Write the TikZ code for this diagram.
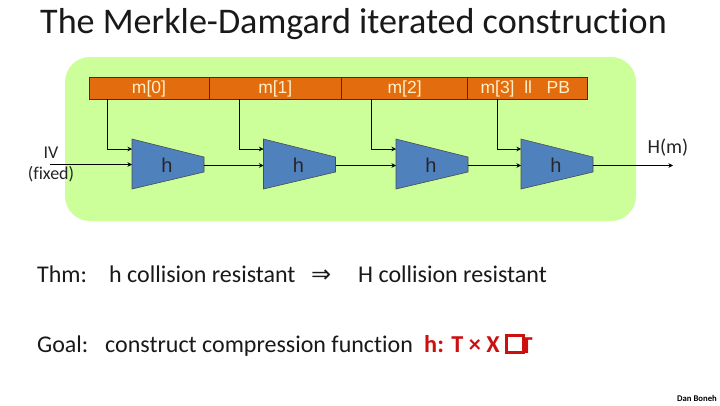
\documentclass[tikz,border=0pt]{standalone}
\usepackage{fontspec}
\setmainfont[Ligatures={NoCommon,NoRequired,NoContextual},RawFeature={-liga;-clig;-dlig}]{Carlito}
\newfontfamily\arialf{Liberation Sans}
\newfontfamily\dejavu{DejaVu Sans}
\usetikzlibrary{arrows.meta}
\definecolor{panelgreen}{RGB}{204,255,153}
\definecolor{barorange}{RGB}{226,108,14}
\definecolor{blockblue}{RGB}{79,129,189}
\definecolor{redtext}{RGB}{204,16,16}
\definecolor{barink}{RGB}{255,240,200}
\tikzset{
  x=1pt,y=-1pt,
  panel/.style={fill=panelgreen,draw=none,rounded corners=25pt},
  cell/.style={draw=black!80,line width=0.7pt,fill=barorange,minimum height=22pt,inner sep=0pt,text height=13.5pt,text depth=3.5pt,text=barink,font=\arialf\fontsize{17.5}{20}\selectfont},
  block/.style={fill=blockblue,draw=black!70,line width=0.6pt},
  blocklabel/.style={font=\arialf\fontsize{20}{23}\selectfont,text=black!85,inner sep=0pt},
  wire/.style={draw=black,line width=1pt,-{Stealth[length=4.5pt,width=4.5pt]}},
  body/.style={anchor=base west,inner sep=0pt,font=\fontsize{24}{28}\selectfont,text=black!90},
  small/.style={inner sep=0pt,font=\fontsize{18}{21}\selectfont,text=black!85}
}
\begin{document}
\begin{tikzpicture}
\useasboundingbox (0,0) rectangle (720,405);
\fill[white] (0,0) rectangle (720,405);
\node[anchor=base west,inner sep=0pt,font=\fontsize{36.1}{42}\selectfont,text=black!90] (title) at (40,33) {The Merkle-Damgard iterated construction};
\draw[panel] (65,57) rectangle (636,221);

\node[cell,minimum width=120pt] (m0) at (149,88) {m[0]};
\node[cell,minimum width=132.6pt] (m1) at (275.3,88) {m[1]};
\node[cell,minimum width=126pt] (m2) at (404.6,88) {m[2]};
\node[cell,minimum width=119.4pt] (m3) at (527.3,88) {\hspace*{-4pt}m[3]\ \ ll\ \ \ PB};

\foreach \n/\xx in {1/132,2/263.5,3/396,4/521}{
  \draw[block] (\xx,139) -- (\xx+72,157) -- (\xx+72,172) -- (\xx,189) -- cycle;
  \coordinate (h\n a) at (\xx,149);
  \coordinate (h\n b) at (\xx,164.5);
  \coordinate (h\n o) at (\xx+72,165.5);
  \node[blocklabel] (h\n) at (\xx+35,165) {h};
}
\coordinate (t0) at (107,99);
\coordinate (t1) at (239,99);
\coordinate (t2) at (371,99);
\coordinate (t3) at (497,99);

\draw[wire] (t0) |- (h1a);
\draw[wire] (t1) |- (h2a);
\draw[wire] (t2) |- (h3a);
\draw[wire] (t3) |- (h4a);

\coordinate (ivstart) at (50,164.5);
\coordinate (hout) at (673,166);
\draw[wire] (ivstart) -- (h1b);
\draw[wire] (h1o) -- (h2b |- h1o);
\draw[wire] (h2o) -- (h3b |- h2o);
\draw[wire] (h3o) -- (h4b |- h3o);
\draw[wire] (h4o) -- (hout |- h4o);

\node[small] (iv) at (51,153) {IV};
\node[small] (fixed) at (51,174) {(fixed)};
\node[inner sep=0pt,font=\fontsize{20}{24}\selectfont,text=black!85] (hm) at (668,148) {H(m)};

\node[body] (thm) at (37,282) {Thm:};
\node[body] (hcr) at (109,282) {h collision resistant};
\node[body,font=\dejavu\fontsize{24}{28}\selectfont] (imp) at (311,282) {⇒};
\node[body] (Hcr) at (358,282) {H collision resistant};
\node[body] (goal) at (37,352) {Goal:};
\node[body] (cons) at (105,352) {construct compression function};
\node[body,font=\bfseries\fontsize{24.3}{28}\selectfont,text=redtext] (sig) at (424,352) {h: T × X};
\node[anchor=base west,inner sep=0pt,font=\bfseries\fontsize{24.3}{28}\selectfont,text=redtext] (tt) at (520.5,353) {T};
\node[draw=redtext,line width=3pt,fill=white,minimum width=16.5pt,minimum height=17pt,inner sep=0pt] (box) at (515,343.5) {};
\node[anchor=base east,inner sep=0pt,font=\bfseries\fontsize{8.7}{10}\selectfont,text=black] (credit) at (717,401) {Dan Boneh};
\end{tikzpicture}
\end{document}
